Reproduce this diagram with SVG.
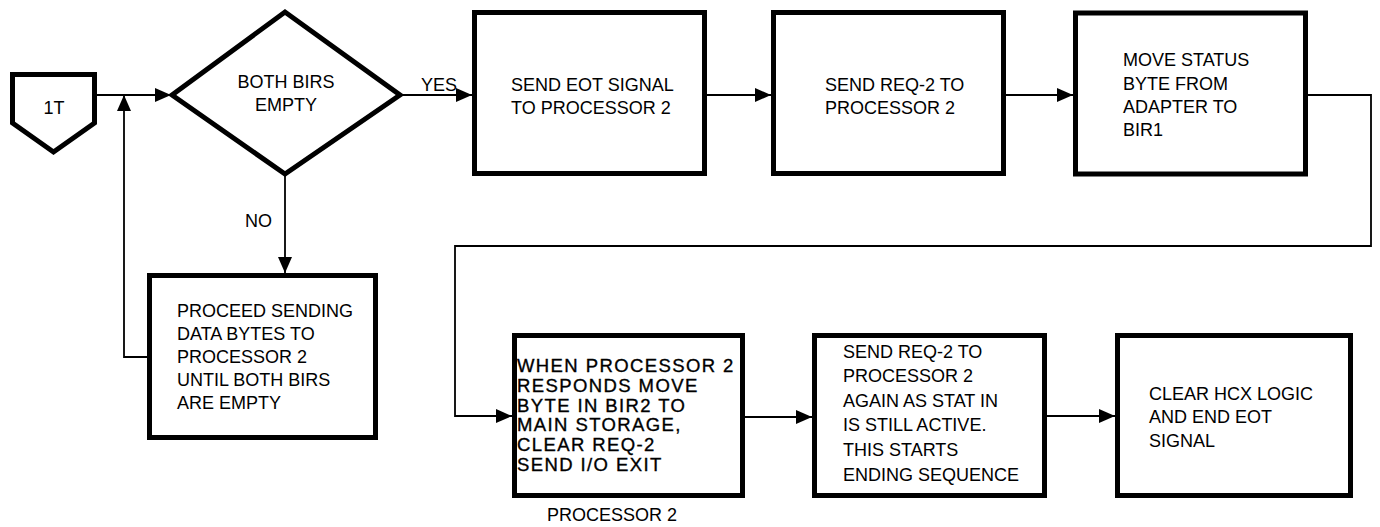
<svg xmlns="http://www.w3.org/2000/svg" width="1380" height="527" viewBox="0 0 1380 527">
<style>
.shape{fill:#fff;stroke:#000;stroke-width:5;stroke-linejoin:miter}
.conn{fill:none;stroke:#000;stroke-width:1.8}
text{font-family:"Liberation Sans",Arial,sans-serif;font-size:18px;fill:#000}
.b{font-size:18.5px;letter-spacing:1.4px;stroke:#000;stroke-width:0.35}
.c{text-anchor:middle}
</style>
<defs>
<marker id="arr" markerUnits="userSpaceOnUse" markerWidth="16" markerHeight="14" refX="16" refY="7" orient="auto">
<path d="M0,0 L16,7 L0,14 Z" fill="#000"/>
</marker>
</defs>
<rect width="1380" height="527" fill="#fff"/>
<g id="connectors">
<path class="conn" d="M97,95 H171" marker-end="url(#arr)"/>
<path class="conn" d="M402,95 H472" marker-end="url(#arr)"/>
<path class="conn" d="M707,95 H771" marker-end="url(#arr)"/>
<path class="conn" d="M1006,95 H1073" marker-end="url(#arr)"/>
<path class="conn" d="M1308,95 H1371 V246 H455 V416 H512" marker-end="url(#arr)"/>
<path class="conn" d="M285,175 V273" marker-end="url(#arr)"/>
<path class="conn" d="M147,357 H124 V95" marker-end="url(#arr)"/>
<path class="conn" d="M745,417 H812" marker-end="url(#arr)"/>
<path class="conn" d="M1047,416 H1115" marker-end="url(#arr)"/>
<text x="421" y="91">YES</text>
<text x="245" y="227">NO</text>
</g>
<g id="start">
<polygon class="shape" points="12.5,74.5 94.5,74.5 94.5,123 53.5,152 12.5,123"/>
<text x="54" y="114" class="c">1T</text>
</g>
<g id="decision">
<polygon class="shape" points="172,95 285,12 400,95 285,174"/>
<text x="286" y="88" class="c">BOTH BIRS</text>
<text x="286" y="111" class="c">EMPTY</text>
</g>
<g id="send-eot">
<rect class="shape" x="474.5" y="12.5" width="230" height="161"/>
<text x="511" y="91">SEND EOT SIGNAL</text>
<text x="511" y="114">TO PROCESSOR 2</text>
</g>
<g id="send-req2">
<rect class="shape" x="773.5" y="12.5" width="230" height="161"/>
<text x="825" y="91">SEND REQ-2 TO</text>
<text x="825" y="114">PROCESSOR 2</text>
</g>
<g id="move-status">
<rect class="shape" x="1075.5" y="13" width="230" height="161"/>
<text x="1123" y="66">MOVE STATUS</text>
<text x="1123" y="90">BYTE FROM</text>
<text x="1123" y="113">ADAPTER TO</text>
<text x="1123" y="136">BIR1</text>
</g>
<g id="proceed">
<rect class="shape" x="149.5" y="275.5" width="226" height="162"/>
<text x="177" y="317">PROCEED SENDING</text>
<text x="177" y="340">DATA BYTES TO</text>
<text x="177" y="363">PROCESSOR 2</text>
<text x="177" y="386">UNTIL BOTH BIRS</text>
<text x="177" y="409">ARE EMPTY</text>
</g>
<g id="when-responds">
<rect class="shape" x="514.5" y="335.5" width="228" height="160"/>
<text class="b" x="517" y="372">WHEN PROCESSOR 2</text>
<text class="b" x="517" y="392">RESPONDS MOVE</text>
<text class="b" x="517" y="412">BYTE IN BIR2 TO</text>
<text class="b" x="517" y="431">MAIN STORAGE,</text>
<text class="b" x="517" y="451">CLEAR REQ-2</text>
<text class="b" x="517" y="471">SEND I/O EXIT</text>
<text x="547" y="521">PROCESSOR 2</text>
</g>
<g id="send-req2-again">
<rect class="shape" x="814.5" y="335.5" width="230" height="160"/>
<text x="843" y="358">SEND REQ-2 TO</text>
<text x="843" y="382">PROCESSOR 2</text>
<text x="843" y="407">AGAIN AS STAT IN</text>
<text x="843" y="431">IS STILL ACTIVE.</text>
<text x="843" y="456">THIS STARTS</text>
<text x="843" y="481">ENDING SEQUENCE</text>
</g>
<g id="clear-hcx">
<rect class="shape" x="1117.5" y="335.5" width="233" height="160"/>
<text x="1149" y="400">CLEAR HCX LOGIC</text>
<text x="1149" y="423">AND END EOT</text>
<text x="1149" y="447">SIGNAL</text>
</g>
</svg>
